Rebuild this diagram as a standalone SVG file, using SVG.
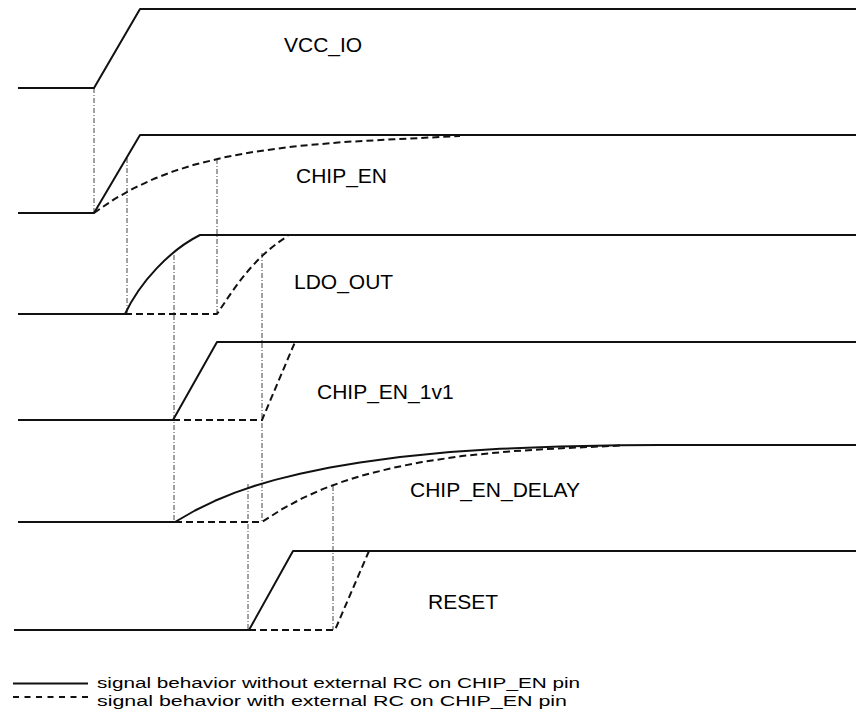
<svg xmlns="http://www.w3.org/2000/svg" width="856" height="722" viewBox="0 0 856 722">
<style>
.sig{fill:none;stroke:#111;stroke-width:2;stroke-linejoin:round;stroke-linecap:butt}
.dash{fill:none;stroke:#111;stroke-width:2;stroke-dasharray:7 4;stroke-linejoin:round}
.guide{fill:none;stroke:#444;stroke-width:1;stroke-dasharray:5 2 1 2}
.lbl{font-family:"Liberation Sans",Arial,sans-serif;font-size:21px;fill:#000}
.leg{font-family:"Liberation Sans",Arial,sans-serif;font-size:15.5px;fill:#000}
</style>
<rect width="856" height="722" fill="#fff"/>
<g id="connectors">
<line class="guide" x1="94" y1="88" x2="94" y2="213"/>
<line class="guide" x1="127" y1="158" x2="127" y2="314"/>
<line class="guide" x1="217" y1="159" x2="217" y2="314"/>
<line class="guide" x1="174" y1="255" x2="174" y2="522"/>
<line class="guide" x1="262" y1="253" x2="262" y2="522"/>
<line class="guide" x1="248" y1="484" x2="248" y2="630"/>
<line class="guide" x1="333" y1="486" x2="333" y2="630"/>
</g>
<g id="vcc_io">
<path class="sig" d="M18,88 H94 L140,9 H856"/>
<text class="lbl" x="284" y="52">VCC_IO</text>
</g>
<g id="chip_en">
<path class="sig" d="M18,213 H94 L140,135 H856"/>
<path class="dash" d="M94,213 L114,199.3 L134,188.1 L154,178.8 L174,171.1 L194,164.8 L224,157.4 L254,151.8 L294,146.4 L344,142 L394,139.3 L430,137.5 L460,136"/>
<text class="lbl" x="296" y="183">CHIP_EN</text>
</g>
<g id="ldo_out">
<path class="sig" d="M18,314 H125 C140,282 170,250 200,235 H856"/>
<path class="dash" d="M125,314 H217 C232,292 252,258 288,236"/>
<text class="lbl" x="294" y="289">LDO_OUT</text>
</g>
<g id="chip_en_1v1">
<path class="sig" d="M18,420 H173 L217,342 H856"/>
<path class="dash" d="M173,420 H262 L295,342"/>
<text class="lbl" x="317" y="399">CHIP_EN_1v1</text>
</g>
<g id="chip_en_delay">
<path class="sig" d="M18,522 H175 L195,510.5 L215,500.8 L235,492.6 L255,485.7 L275,479.9 L300,473.7 L330,467.5 L360,462.6 L400,457.1 L450,452 L500,448.8 L560,446.5 L620,445.3 L660,445 H856"/>
<path class="dash" d="M175,522 H262 L282,509.2 L302,498.4 L322,489.4 L342,481.9 L362,475.6 L392,468 L422,462 L462,456 L512,451.2 L562,448.2 L620,445.6"/>
<text class="lbl" x="410" y="497">CHIP_EN_DELAY</text>
</g>
<g id="reset">
<path class="sig" d="M14,630 H249 L293,551 H856"/>
<path class="dash" d="M249,630 H335 L369,551"/>
<text class="lbl" x="428" y="609">RESET</text>
</g>
<g id="legend">
<line class="sig" x1="13" y1="683.5" x2="88" y2="683.5"/>
<line class="sig" x1="13" y1="697" x2="88" y2="697" style="stroke-dasharray:6 5.5"/>
<text class="leg" x="97" y="688" textLength="483" lengthAdjust="spacingAndGlyphs">signal behavior without external RC on CHIP_EN pin</text>
<text class="leg" x="97" y="706" textLength="470" lengthAdjust="spacingAndGlyphs">signal behavior with external RC on CHIP_EN pin</text>
</g>
</svg>
